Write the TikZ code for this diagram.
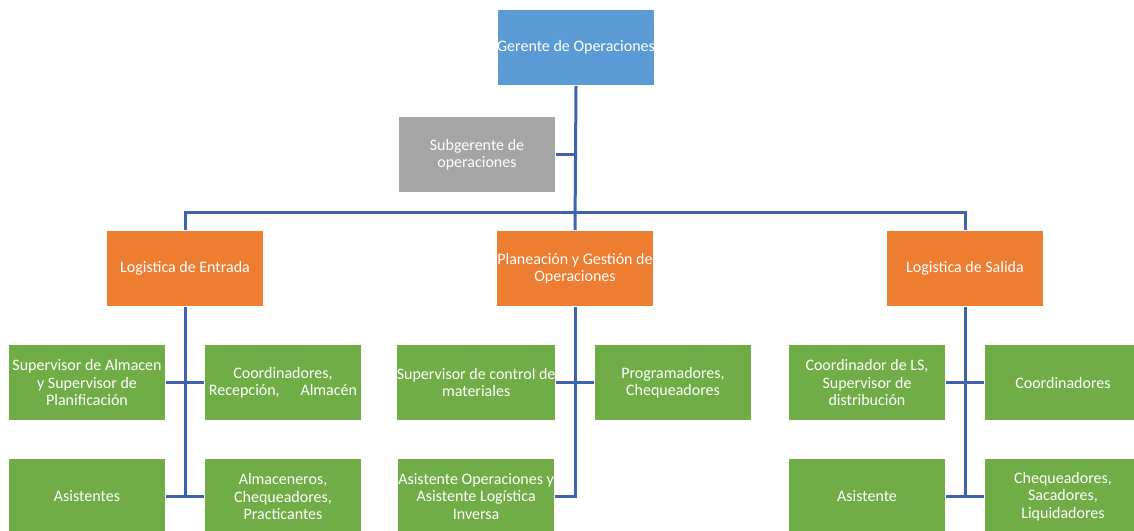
\documentclass[tikz,border=0pt]{standalone}
\usepackage{fontspec}
\setmainfont{Carlito}
\usepackage{xcolor}
\definecolor{lineBlue}{HTML}{3F62AD}
\definecolor{headBlue}{HTML}{5B9BD5}
\definecolor{deputyGray}{HTML}{A5A5A5}
\definecolor{areaOrange}{HTML}{ED7D31}
\definecolor{staffGreen}{HTML}{70AD47}
\usepackage{tikz}
\usetikzlibrary{positioning,calc}
\tikzset{%
  orgBox/.style={%
    rectangle,
    draw=white,
    line width=1pt,
    text=white,
    minimum width=157pt,
    minimum height=76pt,
    inner sep=0pt,
    align=center
  },
  managerBox/.style={orgBox, fill=headBlue},
  deputyBox/.style={orgBox, fill=deputyGray},
  areaBox/.style={orgBox, fill=areaOrange},
  staffBox/.style={orgBox, fill=staffGreen},
  orgLine/.style={%
    line width=3pt,
    color=lineBlue
  }
}

\begin{document}
\begin{tikzpicture}[
                x=1pt, y=1pt,
                node distance=37pt,
                every node/.style={font=\fontsize{16}{17.5}\selectfont}
            ]
            \useasboundingbox (0,0) rectangle (1134,-530);
            \clip (0,0) rectangle (1134,-530);

            \node[managerBox] (gerente) at (576,-47.5) {Gerente de Operaciones};
            \node[deputyBox] (subgerente) at (477,-154.5) {Subgerente de\\operaciones};

            \node[areaBox] (planeacion) at (575,-268.5) {Planeación y Gestión de\\Operaciones};
            \node[areaBox, left=232pt of planeacion] (entrada) {Logistica de Entrada};
            \node[areaBox, right=232pt of planeacion] (salida) {Logistica de Salida};

            % Logistica de Entrada
            \node[staffBox, anchor=north east] (supAlmacen) at ($(entrada.south)+(-19,-37)$) {Supervisor de Almacen\\y Supervisor de\\Planificación};
            \node[staffBox, anchor=north west] (coordRecepcion) at ($(entrada.south)+(19,-37)$) {Coordinadores,\\Recepción,\hspace{1.3em}Almacén};
            \node[staffBox, below=of supAlmacen] (asistentes) {Asistentes};
            \node[staffBox, below=of coordRecepcion] (almaceneros) {Almaceneros,\\Chequeadores,\\Practicantes};

            % Planeacion y Gestion
            \node[staffBox, anchor=north east] (supMateriales) at ($(planeacion.south)+(-19,-37)$) {Supervisor de control de\\materiales};
            \node[staffBox, anchor=north west] (programadores) at ($(planeacion.south)+(19,-37)$) {Programadores,\\Chequeadores};
            \node[staffBox, below=of supMateriales] (asistOper) {Asistente Operaciones y\\Asistente Logística\\Inversa};

            % Logistica de Salida
            \node[staffBox, anchor=north east] (coordLS) at ($(salida.south)+(-19,-37)$) {Coordinador de LS,\\Supervisor de\\distribución};
            \node[staffBox, anchor=north west] (coordinadores) at ($(salida.south)+(19,-37)$) {Coordinadores};
            \node[staffBox, below=of coordLS] (asistente) {Asistente};
            \node[staffBox, below=of coordinadores] (chequeadores) {Chequeadores,\\Sacadores,\\Liquidadores};

            % connectors
            \draw[orgLine] (gerente.south) -- (planeacion.north);
            \draw[orgLine] (subgerente.east) -- (subgerente.east -| gerente.south);
            \draw[orgLine] (entrada.north) -- ++(0,18) -| (salida.north);

            \draw[orgLine] (entrada.south) -- (entrada.south |- asistentes.east);
            \draw[orgLine] (supAlmacen.east) -- (coordRecepcion.west);
            \draw[orgLine] (asistentes.east) -- (almaceneros.west);

            \draw[orgLine] (planeacion.south) |- (asistOper.east);
            \draw[orgLine] (supMateriales.east) -- (programadores.west);

            \draw[orgLine] (salida.south) -- (salida.south |- asistente.east);
            \draw[orgLine] (coordLS.east) -- (coordinadores.west);
            \draw[orgLine] (asistente.east) -- (chequeadores.west);
        \end{tikzpicture}
\end{document}
